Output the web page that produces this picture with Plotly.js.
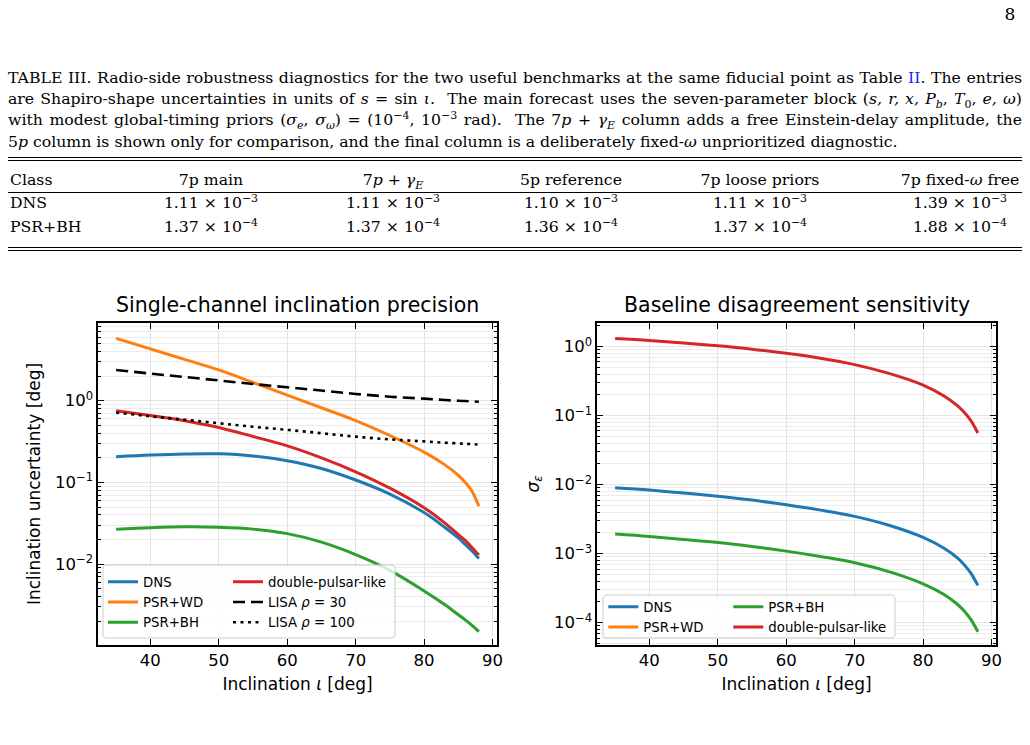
<!DOCTYPE html>
<html><head><meta charset="utf-8">
<script src="https://cdn.plot.ly/plotly-3.0.1.min.js"></script>
<style>
body{margin:0;background:#fff;}
#page{position:relative;width:1030px;height:745px;overflow:hidden;background:#fff;}
#plot{position:absolute;left:0;top:0;width:1030px;height:745px;}
#overlay{position:absolute;left:0;top:0;width:1030px;height:745px;pointer-events:none;}
.serif{font-family:"DejaVu Serif","Liberation Serif",serif;color:#000;font-size:15.7px;}
.capline{position:absolute;left:8px;width:1014px;height:21px;line-height:21px;text-align:justify;text-align-last:justify;white-space:nowrap;}
.capline.last{text-align:left;text-align-last:left;}
sup,sub{font-size:70%;line-height:0;}
.rule{position:absolute;left:8px;width:1014px;height:1px;background:#000;}
.cell{position:absolute;height:22px;line-height:22px;white-space:nowrap;}
</style></head>
<body>
<div id="page">
  <div id="plot"></div>
  <div id="overlay" class="serif"></div>
</div>
<script>
// ---------------- data ----------------
const inclination = [35,40,45,50,55,60,65,70,75,80,83,85,86,87,88];

// Left panel: inclination uncertainty [deg]
const dnsSigmaI   = [0.206,0.216,0.223,0.224,0.211,0.184,0.148,0.107,0.072,0.0427,0.0282,0.0209,0.0174,0.0145,0.0117];
const psrwdSigmaI = [5.8,4.3,3.2,2.38,1.67,1.17,0.82,0.57,0.375,0.235,0.165,0.122,0.1,0.078,0.051];
const psrbhSigmaI = [0.0267,0.0279,0.0286,0.0283,0.0268,0.0236,0.0186,0.0131,0.0084,0.0047,0.0032,0.0024,0.00208,0.00178,0.00149];
const dpSigmaI    = [0.755,0.66,0.57,0.47,0.365,0.28,0.20,0.135,0.085,0.049,0.032,0.023,0.0195,0.016,0.0129];
const lisaRho30   = [2.38,2.15,1.95,1.77,1.6,1.46,1.33,1.21,1.12,1.06,1.02,1.0,0.99,0.98,0.97];
const lisaRho100  = [0.714,0.645,0.585,0.53,0.48,0.44,0.40,0.363,0.336,0.318,0.306,0.30,0.297,0.294,0.291];

// Right panel: sigma_epsilon
const dnsSigmaEps   = [0.00904,0.00836,0.00757,0.0068,0.00598,0.00512,0.00428,0.00347,0.00258,0.00172,0.00121,0.00087,0.000694,0.00052,0.000347];
const psrwdSigmaEps = [null,null,null,null,null,null,null,null,null,null,null,null,null,null,null];
const psrbhSigmaEps = [0.00193,0.00178,0.00161,0.00145,0.00127,0.00109,0.00091,0.00074,0.00055,0.000366,0.000258,0.000185,0.000148,0.000111,0.000074];
const dpSigmaEps    = [1.31,1.23,1.13,1.03,0.92,0.80,0.68,0.55,0.41,0.278,0.195,0.14,0.112,0.084,0.056];

const seriesNames = ["DNS","PSR+WD","PSR+BH","double-pulsar-like"];
const lisaNames = ["LISA <i>ρ</i> = 30","LISA <i>ρ</i> = 100"];

// Table
const tableHeaders = ["Class","7p main","7<i>p</i> + <i>γ</i><sub><i>E</i></sub>","5p reference","7p loose priors","7p fixed-<i>ω</i> free"];
const tableClasses = ["DNS","PSR+BH"];
const dnsTableMantissa   = [1.11,1.11,1.10,1.11,1.39];
const dnsTableExponent   = [-3,-3,-3,-3,-3];
const psrbhTableMantissa = [1.37,1.37,1.36,1.37,1.88];
const psrbhTableExponent = [-4,-4,-4,-4,-4];

const captionLines = [
 'TABLE III. Radio-side robustness diagnostics for the two useful benchmarks at the same fiducial point as Table <span style="color:#1a1aff">II</span>. The entries',
 'are Shapiro-shape uncertainties in units of <i>s</i> = sin <i>ι</i>. &nbsp;The main forecast uses the seven-parameter block (<i>s, r, x, P</i><sub><i>b</i></sub>, <i>T</i><sub>0</sub>, <i>e, ω</i>)',
 'with modest global-timing priors (<i>σ</i><sub><i>e</i></sub>, <i>σ</i><sub><i>ω</i></sub>) = (10<sup>−4</sup>, 10<sup>−3</sup> rad). &nbsp;The 7<i>p</i> + <i>γ</i><sub><i>E</i></sub> column adds a free Einstein-delay amplitude, the',
 '5<i>p</i> column is shown only for comparison, and the final column is a deliberately fixed-<i>ω</i> unprioritized diagnostic.'
];

// ---------------- page text ----------------
const ov = document.getElementById('overlay');
function addDiv(cls, style, html){ const d=document.createElement('div'); d.className=cls; d.style.cssText=style; d.innerHTML=html; ov.appendChild(d); return d; }
addDiv('cell','left:1000px;top:3px;width:20px;text-align:center;font-size:17px;','8');
captionLines.forEach((t,i)=>{ addDiv('capline'+(i===captionLines.length-1?' last':''),'top:'+(67+i*21.2)+'px;',t); });
[157,160,192,247,250].forEach(y=>addDiv('rule','top:'+y+'px;',''));
const colCenters=[211,393,571,760,960];
const rowCenters=[180,203,227];
function sci(m,e){ return m.toFixed(2)+' × 10<sup>'+(e<0?'−':'')+Math.abs(e)+'</sup>'; }
addDiv('cell','left:10px;top:'+(rowCenters[0]-11)+'px;',tableHeaders[0]);
for(let c=1;c<tableHeaders.length;c++) addDiv('cell','left:'+(colCenters[c-1]-110)+'px;width:220px;text-align:center;top:'+(rowCenters[0]-11)+'px;',tableHeaders[c]);
const tableRows=[[dnsTableMantissa,dnsTableExponent],[psrbhTableMantissa,psrbhTableExponent]];
tableRows.forEach((r,ri)=>{
  const top=rowCenters[ri+1]-11;
  addDiv('cell','left:10px;top:'+top+'px;',tableClasses[ri]);
  r[0].forEach((m,ci)=>addDiv('cell','left:'+(colCenters[ci]-110)+'px;width:220px;text-align:center;top:'+top+'px;',sci(m,r[1][ci])));
});

// ---------------- chart ----------------
const colors=['#1f77b4','#ff7f0e','#2ca02c','#d62728'];
const FONT='DejaVu Sans, sans-serif';
function line(x,y,name,color,dash,xa,ya,leg,w){
  return {x:x,y:y,name:name,type:'scatter',mode:'lines',xaxis:xa,yaxis:ya,legend:leg,
    line:{color:color,width:w||3,dash:dash||'solid',shape:'spline',smoothing:1},connectgaps:false,hoverinfo:'skip'};
}
const traces=[
  line(inclination,dnsSigmaI,seriesNames[0],colors[0],null,'x','y','legend'),
  line(inclination,psrwdSigmaI,seriesNames[1],colors[1],null,'x','y','legend'),
  line(inclination,psrbhSigmaI,seriesNames[2],colors[2],null,'x','y','legend'),
  line(inclination,dpSigmaI,seriesNames[3],colors[3],null,'x','y','legend2'),
  line(inclination,lisaRho30,lisaNames[0],'#000','12px,6px','x','y','legend2',2.6),
  line(inclination,lisaRho100,lisaNames[1],'#000','3px,4.5px','x','y','legend2',2.6),
  line(inclination,dnsSigmaEps,seriesNames[0],colors[0],null,'x2','y2','legend3'),
  line(inclination,psrwdSigmaEps,seriesNames[1],colors[1],null,'x2','y2','legend3'),
  line(inclination,psrbhSigmaEps,seriesNames[2],colors[2],null,'x2','y2','legend4'),
  line(inclination,dpSigmaEps,seriesNames[3],colors[3],null,'x2','y2','legend4')
];
function minorVals(lo,hi){const v=[];for(let e=lo;e<=hi;e++)for(let m=2;m<=9;m++)v.push(m*Math.pow(10,e));return v;}
function expLabel(e){return '10<sup>'+(e<0?'−':'')+Math.abs(e)+'</sup>';}
const W=1030,H=745;
const px=v=>v/W, py=v=>1-v/H;
function xax(dom,anchor){return {domain:dom,anchor:anchor,range:[32.35,90.65],tickvals:[40,50,60,70,80,90],ticks:'inside',ticklen:6,tickwidth:1.2,tickcolor:'#000',
  showline:true,linecolor:'#000',linewidth:1.6,mirror:'ticks',showgrid:true,gridcolor:'#e4e4e4',gridwidth:1,zeroline:false,
  tickfont:{family:FONT,size:16.5,color:'#000'},title:{text:'Inclination <i>ι</i> [deg]',font:{family:FONT,size:17,color:'#000'},standoff:8}};}
function yax(dom,anchor,rng,elo,ehi,title){
  const tv=[],tt=[];for(let e=elo;e<=ehi;e++){tv.push(Math.pow(10,e));tt.push(expLabel(e));}
  return {domain:dom,anchor:anchor,type:'log',range:rng,tickmode:'array',tickvals:tv,ticktext:tt,ticks:'inside',ticklen:6,tickwidth:1.2,tickcolor:'#000',
  showline:true,linecolor:'#000',linewidth:1.6,mirror:'ticks',showgrid:true,gridcolor:'#e4e4e4',gridwidth:1,zeroline:false,
  minor:{tickmode:'array',tickvals:minorVals(elo-1,ehi),ticks:'inside',ticklen:3,tickwidth:1,tickcolor:'#000',showgrid:true,gridcolor:'#ececec',gridwidth:1},
  tickfont:{family:FONT,size:16.5,color:'#000'},title:{text:title,font:{family:FONT,size:17,color:'#000'},standoff:10}};}
function rrect(x0,y0,x1,y1,r){
  const X=v=>px(v).toFixed(5), Y=v=>py(v).toFixed(5);
  return 'M'+X(x0+r)+','+Y(y0)+' L'+X(x1-r)+','+Y(y0)+' Q'+X(x1)+','+Y(y0)+' '+X(x1)+','+Y(y0+r)+
    ' L'+X(x1)+','+Y(y1-r)+' Q'+X(x1)+','+Y(y1)+' '+X(x1-r)+','+Y(y1)+' L'+X(x0+r)+','+Y(y1)+
    ' Q'+X(x0)+','+Y(y1)+' '+X(x0)+','+Y(y1-r)+' L'+X(x0)+','+Y(y0+r)+' Q'+X(x0)+','+Y(y0)+' '+X(x0+r)+','+Y(y0)+' Z';
}
const legFont={family:FONT,size:13.3,color:'#000'};
function leg(x,ytop){return {x:px(x),y:py(ytop),xanchor:'left',yanchor:'top',xref:'paper',yref:'paper',bgcolor:'rgba(0,0,0,0)',borderwidth:0,font:legFont,traceorder:'normal',itemwidth:30};}
const layout={
  width:W,height:H,margin:{l:0,r:0,t:0,b:0},paper_bgcolor:'rgba(255,255,255,0)',plot_bgcolor:'#fff',
  font:{family:FONT,color:'#000'},showlegend:true,hovermode:false,
  xaxis:xax([px(98),px(497)],'y'),
  yaxis:yax([py(645),py(323)],'x',[-2.99,0.951],-2,0,'Inclination uncertainty [deg]'),
  xaxis2:xax([px(597),px(996)],'y2'),
  yaxis2:yax([py(645),py(323)],'x2',[-4.323,0.343],-4,0,'<i>σ</i><sub><i>ε</i></sub>'),
  legend:leg(103,566.5),legend2:leg(228,566.5),legend3:leg(603.3,591.5),legend4:leg(728.3,591.5),
  shapes:[
    {type:'path',xref:'paper',yref:'paper',path:rrect(103,565,395,638,4),fillcolor:'rgba(255,255,255,0.8)',line:{color:'#cccccc',width:1},layer:'above'},
    {type:'path',xref:'paper',yref:'paper',path:rrect(603,595,895,638,4),fillcolor:'rgba(255,255,255,0.8)',line:{color:'#cccccc',width:1},layer:'above'}
  ],
  annotations:[
    {text:'Single-channel inclination precision',x:px(297.5),y:py(305),xref:'paper',yref:'paper',xanchor:'center',yanchor:'middle',showarrow:false,font:{family:FONT,size:20.5,color:'#000'}},
    {text:'Baseline disagreement sensitivity',x:px(796.5),y:py(305),xref:'paper',yref:'paper',xanchor:'center',yanchor:'middle',showarrow:false,font:{family:FONT,size:20.5,color:'#000'}}
  ]
};
Plotly.newPlot('plot',traces,layout,{staticPlot:true,displayModeBar:false});
</script>
</body></html>
